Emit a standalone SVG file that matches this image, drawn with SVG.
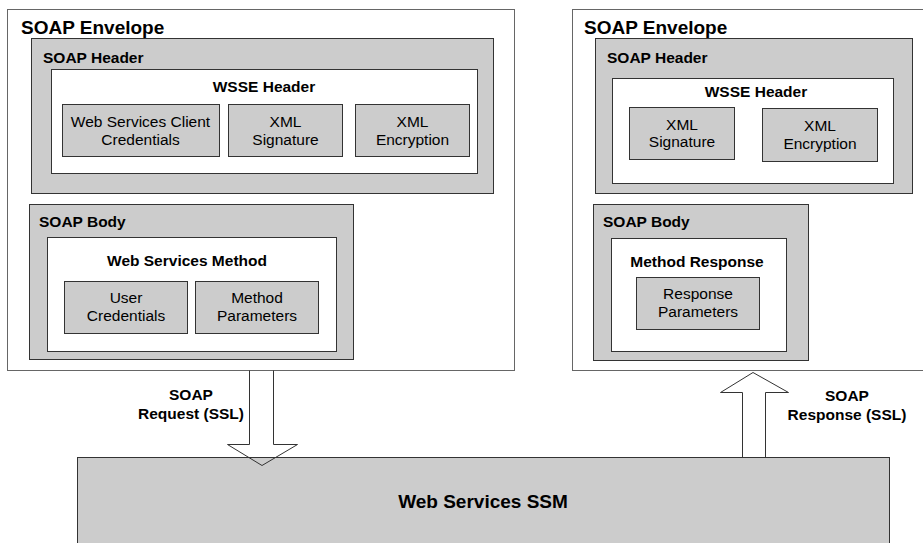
<svg xmlns="http://www.w3.org/2000/svg" width="923" height="543" viewBox="0 0 923 543">
<style>
text{font-family:"Liberation Sans",Arial,Helvetica,sans-serif;fill:#000}
.env{fill:#fff;stroke:#666;stroke-width:1}
.gray{fill:#cccccc;stroke:#333;stroke-width:1}
.white{fill:#fff;stroke:#333;stroke-width:1}
.t19{font-size:19px;font-weight:bold}
.tb{font-size:15.5px;font-weight:bold}
.tr{font-size:15.5px}
.c{text-anchor:middle}
.arrow{fill:none;stroke:#333;stroke-width:1}
</style>
<rect width="923" height="543" fill="#fff"/>

<g id="left-envelope">
<rect class="env" x="7.5" y="9.5" width="507" height="361"/>
<text class="t19" x="21" y="34">SOAP Envelope</text>
</g>
<g id="left-soap-header">
<rect class="gray" x="31.5" y="38.5" width="462" height="155"/>
<text class="tb" x="43" y="63">SOAP Header</text>
</g>
<g id="left-wsse-header">
<rect class="white" x="51.5" y="69.5" width="426" height="104"/>
<text class="tb c" x="264" y="92">WSSE Header</text>
</g>
<g id="left-client-credentials">
<rect class="gray" x="62.5" y="104.5" width="157" height="52"/>
<text class="tr c" x="140.5" y="127">Web Services Client</text>
<text class="tr c" x="140.5" y="145">Credentials</text>
</g>
<g id="left-xml-signature">
<rect class="gray" x="228.5" y="104.5" width="114" height="52"/>
<text class="tr c" x="285.5" y="127">XML</text>
<text class="tr c" x="285.5" y="145">Signature</text>
</g>
<g id="left-xml-encryption">
<rect class="gray" x="355.5" y="104.5" width="114" height="52"/>
<text class="tr c" x="412.5" y="127">XML</text>
<text class="tr c" x="412.5" y="145">Encryption</text>
</g>
<g id="left-soap-body">
<rect class="gray" x="29.5" y="204.5" width="324" height="155"/>
<text class="tb" x="39" y="227">SOAP Body</text>
</g>
<g id="web-services-method">
<rect class="white" x="47.5" y="237.5" width="289" height="114"/>
<text class="tb c" x="187" y="266">Web Services Method</text>
</g>
<g id="user-credentials">
<rect class="gray" x="64.5" y="281.5" width="123" height="52"/>
<text class="tr c" x="126" y="303">User</text>
<text class="tr c" x="126" y="321">Credentials</text>
</g>
<g id="method-parameters">
<rect class="gray" x="195.5" y="281.5" width="123" height="52"/>
<text class="tr c" x="257" y="303">Method</text>
<text class="tr c" x="257" y="321">Parameters</text>
</g>

<g id="right-envelope">
<rect class="env" x="572.5" y="9.5" width="360" height="361"/>
<text class="t19" x="584" y="34">SOAP Envelope</text>
</g>
<g id="right-soap-header">
<rect class="gray" x="595.5" y="38.5" width="317" height="155"/>
<text class="tb" x="607" y="63">SOAP Header</text>
</g>
<g id="right-wsse-header">
<rect class="white" x="612.5" y="78.5" width="281" height="105"/>
<text class="tb c" x="756" y="97">WSSE Header</text>
</g>
<g id="right-xml-signature">
<rect class="gray" x="629.5" y="107.5" width="105" height="52"/>
<text class="tr c" x="682" y="130">XML</text>
<text class="tr c" x="682" y="147">Signature</text>
</g>
<g id="right-xml-encryption">
<rect class="gray" x="762.5" y="108.5" width="115" height="53"/>
<text class="tr c" x="820" y="131">XML</text>
<text class="tr c" x="820" y="149">Encryption</text>
</g>
<g id="right-soap-body">
<rect class="gray" x="593.5" y="204.5" width="215" height="156"/>
<text class="tb" x="603" y="227">SOAP Body</text>
</g>
<g id="method-response">
<rect class="white" x="611.5" y="238.5" width="175" height="113"/>
<text class="tb c" x="697" y="267">Method Response</text>
</g>
<g id="response-parameters">
<rect class="gray" x="636.5" y="277.5" width="123" height="52"/>
<text class="tr c" x="698" y="299">Response</text>
<text class="tr c" x="698" y="317">Parameters</text>
</g>

<g id="web-services-ssm">
<rect x="77.5" y="457.5" width="812" height="100" fill="#cccccc" stroke="#333" stroke-width="1"/>
<text class="t19 c" x="483" y="508">Web Services SSM</text>
</g>

<g id="connectors">
<path class="arrow" d="M249.5,370.5 V444.5 H227.5 L262,465.5 L297.5,444.5 H273.5 V370.5"/>
<path class="arrow" d="M742.5,457.5 V392.5 H720.5 L753,372.5 L788.5,392.5 H765.5 V457.5"/>
<text class="tb c" x="191" y="400">SOAP</text>
<text class="tb c" x="191" y="419">Request (SSL)</text>
<text class="tb c" x="847" y="401">SOAP</text>
<text class="tb c" x="847" y="420">Response (SSL)</text>
</g>
</svg>
